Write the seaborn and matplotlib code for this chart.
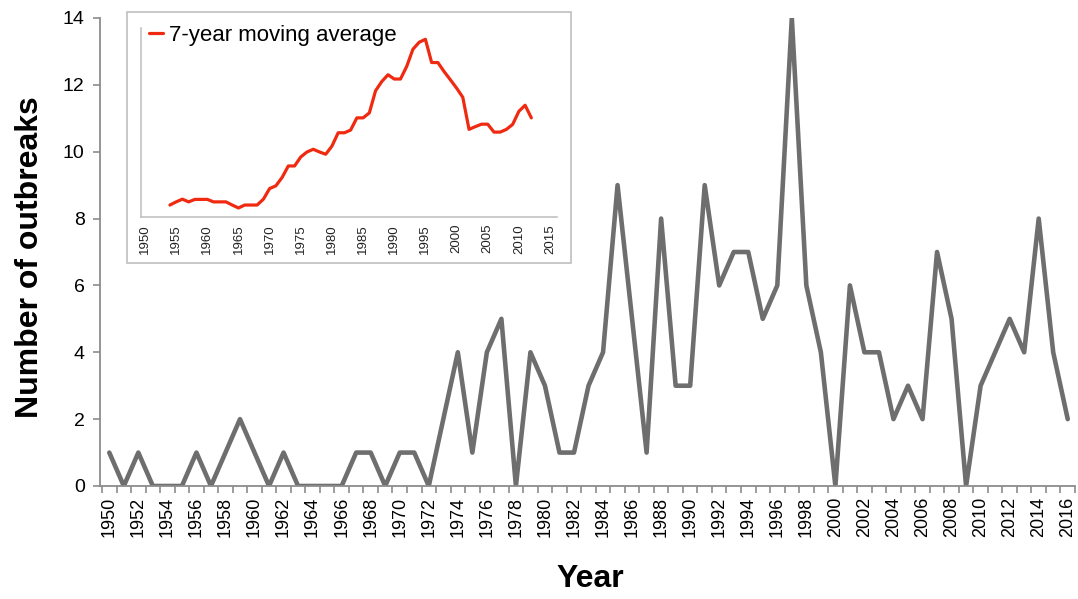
import matplotlib
matplotlib.use("Agg")
import matplotlib.pyplot as plt
import seaborn as sns
import numpy as np
from matplotlib.patches import Rectangle

years = list(range(1950, 2017))
outbreaks = [1, 0, 1, 0, 0, 0, 1, 0, 1, 2,
             1, 0, 1, 0, 0, 0, 0, 1, 1, 0,
             1, 1, 0, 2, 4, 1, 4, 5, 0, 4,
             3, 1, 1, 3, 4, 9, 5, 1, 8, 3,
             3, 9, 6, 7, 7, 5, 6, 14, 6, 4,
             0, 6, 4, 4, 2, 3, 2, 7, 5, 0,
             3, 4, 5, 4, 8, 4, 2]

ma_years = list(range(1954, 2013))
ma_values = [0.53, 0.67, 0.79, 0.67, 0.78, 0.78, 0.78, 0.67, 0.67, 0.67,
             0.53, 0.40, 0.53, 0.53, 0.53, 0.79, 1.26, 1.38, 1.75, 2.26,
             2.26, 2.66, 2.88, 3.00, 2.88, 2.78, 3.14, 3.73, 3.73, 3.85,
             4.39, 4.39, 4.61, 5.59, 6.00, 6.30, 6.11, 6.11, 6.67, 7.43,
             7.74, 7.87, 6.84, 6.84, 6.44, 6.08, 5.71, 5.30, 3.88, 4.00,
             4.11, 4.11, 3.76, 3.76, 3.88, 4.10, 4.68, 4.95, 4.39]

main_ticks = list(range(1950, 2017, 2))
inset_ticks = list(range(1950, 2016, 5))

sns.set_theme(style="ticks")
plt.rcParams['font.family'] = ['Liberation Sans', 'DejaVu Sans']
plt.rcParams['text.color'] = 'black'

W, H = 1078, 599
fig = plt.figure(figsize=(W / 100, H / 100), dpi=100)
fig.patch.set_facecolor("white")

# ---- main axes ----
ax = fig.add_axes([100 / W, 1 - 486 / H, 975 / W, 468 / H])
sns.lineplot(x=years, y=outbreaks, ax=ax, color="#6e6e6e", linewidth=3.3)
ax.set_xlim(1949.36, 2016.5)
ax.set_ylim(0, 14)
ax.set_yticks(range(0, 15, 2))
ax.set_xticks(main_ticks)
ax.set_xticklabels([str(y) for y in main_ticks], rotation=90)
ax.set_xticks(np.arange(1949.5, 2017, 1.0), minor=True)
ax.tick_params(axis='x', which='major', length=0, pad=8, labelsize=13, labelcolor='black')
ax.tick_params(axis='x', which='minor', length=5, width=1.2, color='#8c8c8c')
ax.tick_params(axis='y', which='major', length=5, width=1.2, color='#8c8c8c',
               labelsize=14, labelcolor='black', pad=6)
for s in ['top', 'right']:
    ax.spines[s].set_visible(False)
for s in ['left', 'bottom']:
    ax.spines[s].set_color('#8c8c8c')
    ax.spines[s].set_linewidth(1.3)
ax.set_xlabel("")
ax.set_ylabel("")

fig.text(30 / W, 1 - 257 / H, "Number of outbreaks", rotation=90, ha='center', va='center',
         fontsize=23, fontweight='bold', color='black')
fig.text(590 / W, 1 - 579 / H, "Year", ha='center', va='center',
         fontsize=23, fontweight='bold', color='black')

# ---- inset frame ----
frame = Rectangle((127 / W, 1 - 263 / H), 444 / W, 251 / H, transform=fig.transFigure,
                  facecolor='white', edgecolor='#c4c4c4', linewidth=1.3, zorder=1)
fig.patches.append(frame)

# ---- inset axes ----
axi = fig.add_axes([140.7 / W, 1 - 217 / H, 416 / W, 189 / H], zorder=2)
axi.set_facecolor('none')
sns.lineplot(x=ma_years, y=ma_values, ax=axi, color="#f02a10", linewidth=2.3,
             label="7-year moving average")
axi.set_xlim(1949.31, 2016.07)
axi.set_ylim(0, 8.37)
axi.set_yticks([])
axi.set_xticks(inset_ticks)
axi.set_xticklabels([str(y) for y in inset_ticks], rotation=90)
axi.tick_params(axis='x', length=0, pad=5, labelsize=9.5, labelcolor='#222222')
for s in ['top', 'right']:
    axi.spines[s].set_visible(False)
for s in ['left', 'bottom']:
    axi.spines[s].set_color('#bdbdbd')
    axi.spines[s].set_linewidth(1.1)
axi.set_xlabel("")
axi.set_ylabel("")
leg = axi.legend(loc='center left', bbox_to_anchor=(149 / W, 1 - 35 / H),
                 bbox_transform=fig.transFigure, frameon=False, fontsize=16,
                 handlelength=0.65, handletextpad=0.25, borderpad=0, borderaxespad=0)
for t in leg.get_texts():
    t.set_color('black')

fig.savefig("out.png", dpi=100, facecolor='white')
